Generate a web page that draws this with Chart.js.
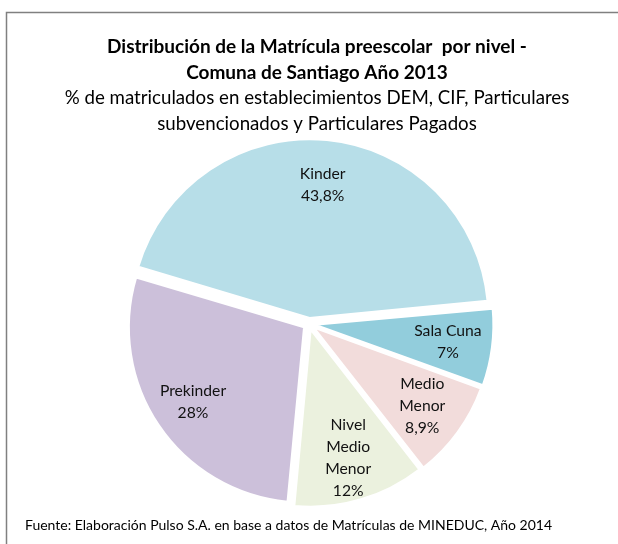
<!DOCTYPE html>
<html>
<head>
<meta charset="utf-8">
<script src="https://cdn.jsdelivr.net/npm/chart.js@4.4.0/dist/chart.umd.min.js"></script>
<style>
html, body { margin: 0; padding: 0; background: #fff; }
#wrap { position: relative; width: 618px; height: 544px; }
</style>
</head>
<body>
<div id="wrap"><canvas id="myPieChart"></canvas></div>
<script>
// datos
var niveles = ['Kinder', 'Sala Cuna', 'Medio Menor', 'Nivel Medio Menor', 'Prekinder'];
var nivelesLineas = [['Kinder'], ['Sala Cuna'], ['Medio', 'Menor'], ['Nivel', 'Medio', 'Menor'], ['Prekinder']];
var porcentajes = [43.8, 7, 8.9, 12, 28];
var colores = ['#b7dee8', '#92cddc', '#f2dcdb', '#ebf1de', '#ccc0da'];

var titulo = ['Distribución de la Matrícula preescolar  por nivel -', 'Comuna de Santiago Año 2013'];
var subtitulo = ['% de matriculados en establecimientos DEM, CIF, Particulares', 'subvencionados y Particulares Pagados'];
var fuente = 'Fuente: Elaboración Pulso S.A. en base a datos de Matrículas de MINEDUC, Año 2014';

var FONT = 'Lato';

// marco, titulos y fuente
var marcoPlugin = {
    id: 'marco',
    beforeDraw: function(chart) {
        var ctx = chart.ctx;
        ctx.save();
        ctx.strokeStyle = '#808080';
        ctx.lineWidth = 1.5;
        ctx.beginPath();
        ctx.moveTo(6.5, chart.height);
        ctx.lineTo(6.5, 12.5);
        ctx.lineTo(chart.width, 12.5);
        ctx.stroke();
        ctx.restore();
    },
    afterDraw: function(chart) {
        var ctx = chart.ctx;
        ctx.save();
        ctx.fillStyle = '#000';
        ctx.textBaseline = 'middle';
        ctx.textAlign = 'center';
        var cx = 317;
        ctx.font = 'bold 19px ' + FONT;
        titulo.forEach(function(t, i) {
            ctx.fillText(t, cx, 47 + i * 25.5);
        });
        ctx.font = '18.7px ' + FONT;
        subtitulo.forEach(function(t, i) {
            ctx.fillText(t, cx, 98 + i * 25.5);
        });
        ctx.font = '14px ' + FONT;
        ctx.textAlign = 'left';
        ctx.fillText(fuente, 25, 525);
        ctx.restore();
    }
};

// etiquetas dentro de cada sector
var etiquetasPlugin = {
    id: 'etiquetas',
    afterDatasetsDraw: function(chart) {
        var ctx = chart.ctx;
        var meta = chart.getDatasetMeta(0);
        ctx.save();
        ctx.font = '15.7px ' + FONT;
        ctx.fillStyle = '#111';
        ctx.textAlign = 'center';
        ctx.textBaseline = 'middle';
        meta.data.forEach(function(arc, i) {
            var p = arc.getProps(['x', 'y', 'startAngle', 'endAngle', 'outerRadius']);
            var mid = (p.startAngle + p.endAngle) / 2;
            var r = p.outerRadius * 0.8;
            var cx = p.x + Math.cos(mid) * r;
            var cy = p.y + Math.sin(mid) * r;
            var lineas = nivelesLineas[i].concat([String(porcentajes[i]).replace('.', ',') + '%']);
            var lh = 22;
            var y0 = cy - (lineas.length - 1) * lh / 2;
            lineas.forEach(function(t, j) {
                ctx.fillText(t, cx, y0 + j * lh);
            });
        });
        ctx.restore();
    }
};

var ctx = document.getElementById('myPieChart').getContext('2d');
var myPieChart = new Chart(ctx, {
    type: 'pie',
    data: {
        labels: niveles,
        datasets: [{
            data: porcentajes,
            backgroundColor: colores,
            borderColor: '#fff',
            borderWidth: 2,
            offset: 24
        }]
    },
    options: {
        responsive: true,
        maintainAspectRatio: false,
        animation: false,
        rotation: -73.5,
        layout: {
            padding: { top: 136, bottom: 32, left: 0, right: 0 }
        },
        plugins: {
            legend: { display: false },
            tooltip: { enabled: false },
            title: { display: false }
        }
    },
    plugins: [marcoPlugin, etiquetasPlugin]
});
</script>
</body>
</html>
